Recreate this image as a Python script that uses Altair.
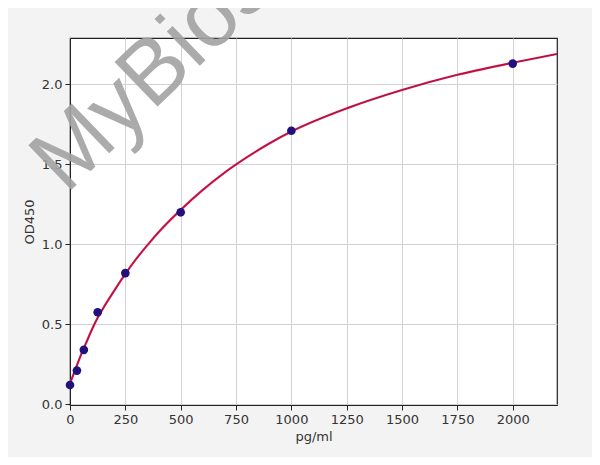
import altair as alt
import pandas as pd

# Standard points (pg/ml vs OD450)
std_conc = [0, 31.25, 62.5, 125, 250, 500, 1000, 2000]
std_od = [0.12, 0.21, 0.34, 0.575, 0.82, 1.20, 1.71, 2.13]

# Fitted curve
curve_x = [0, 25, 50, 75, 100, 125, 150, 200, 250, 300, 350, 400, 500, 600,
           700, 800, 900, 1000, 1250, 1500, 1750, 2000, 2200]
curve_y = [0.13, 0.22, 0.31, 0.39, 0.47, 0.54, 0.60, 0.71, 0.815, 0.91, 0.995,
           1.075, 1.215, 1.34, 1.45, 1.545, 1.63, 1.705, 1.85, 1.965, 2.06, 2.135, 2.19]

x_ticks = [0, 250, 500, 750, 1000, 1250, 1500, 1750, 2000]
y_ticks = [0.0, 0.5, 1.0, 1.5, 2.0]
watermark = ["MyBiosource"]

pts = pd.DataFrame({"conc": std_conc, "od": std_od})
crv = pd.DataFrame({"conc": curve_x, "od": curve_y})
wm = pd.DataFrame({"t": watermark})

xscale = alt.Scale(domain=[0, 2200], nice=False, zero=False)
yscale = alt.Scale(domain=[-0.005, 2.29], nice=False, zero=False)

font = "DejaVu Sans"
xaxis = alt.Axis(title="pg/ml", values=x_ticks, format="d", grid=True,
                 gridColor="#d2d2d2", gridWidth=1, tickColor="#222", tickSize=5,
                 domainColor="#222", labelFont=font, labelFontSize=13,
                 labelColor="#333", titleFont=font, titleFontSize=13,
                 titleFontWeight="normal", titleColor="#333", labelPadding=3,
                 titlePadding=4, labelFlush=False)
yaxis = alt.Axis(title="OD450", values=y_ticks, format=".1f", grid=True,
                 gridColor="#d2d2d2", gridWidth=1, tickColor="#222", tickSize=5,
                 domainColor="#222", labelFont=font, labelFontSize=13,
                 labelColor="#333", titleFont=font, titleFontSize=13,
                 titleFontWeight="normal", titleColor="#333", labelPadding=3,
                 titlePadding=5)

line_red = alt.Chart(crv).mark_line(color="#e0194c", strokeWidth=2.2, interpolate="monotone").encode(
    x=alt.X("conc:Q", scale=xscale, axis=xaxis),
    y=alt.Y("od:Q", scale=yscale, axis=yaxis),
)
line_dark = alt.Chart(crv).mark_line(color="#3a1446", strokeWidth=0.7, opacity=0.6, interpolate="monotone").encode(
    x=alt.X("conc:Q", scale=xscale),
    y=alt.Y("od:Q", scale=yscale),
)
points = alt.Chart(pts).mark_circle(color="#22107e", size=75, opacity=1).encode(
    x=alt.X("conc:Q", scale=xscale),
    y=alt.Y("od:Q", scale=yscale),
)
text = alt.Chart(wm).mark_text(
    align="left", baseline="alphabetic", angle=316, fontSize=90,
    font="Liberation Sans", color="#a3a3a3", opacity=0.9
).encode(
    text="t:N", x=alt.value(-4), y=alt.value(157)
)

chart = alt.layer(line_red, line_dark, points, text).properties(
    width=487, height=367,
    background="#f3f3f3",
    autosize=alt.AutoSizeParams(type="none"),
    padding={"left": 62, "top": 30, "right": 35, "bottom": 52},
).configure_view(fill="white", stroke="#222", strokeWidth=1.2)

chart.save("out.html", embed_options={"renderer": "svg", "actions": False})
